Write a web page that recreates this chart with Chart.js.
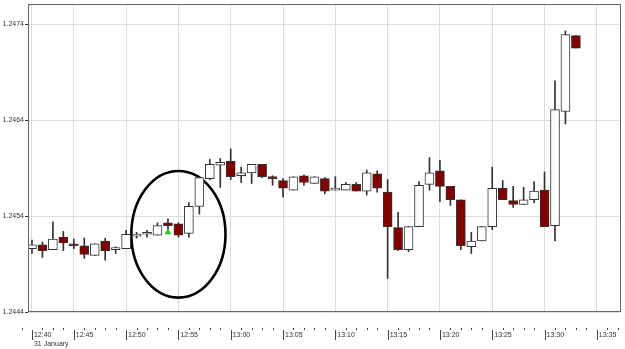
<!DOCTYPE html>
<html>
<head>
<meta charset="utf-8">
<script src="https://cdn.jsdelivr.net/npm/chart.js@4.4.1/dist/chart.umd.min.js"></script>
<style>
  html, body { margin: 0; padding: 0; background: #fff; }
  #wrap { width: 625px; height: 349px; }
</style>
</head>
<body>
<div id="wrap"><canvas id="candles" width="625" height="349"></canvas></div>
<script>
// One-minute candles, 31 January.
const times = [
  '12:41', '12:42', '12:43', '12:44', '12:45', '12:46', '12:47', '12:48', '12:49', '12:50',
  '12:51', '12:52', '12:53', '12:54', '12:55', '12:56', '12:57', '12:58', '12:59', '13:00',
  '13:01', '13:02', '13:03', '13:04', '13:05', '13:06', '13:07', '13:08', '13:09', '13:10',
  '13:11', '13:12', '13:13', '13:14', '13:15', '13:16', '13:17', '13:18', '13:19', '13:20',
  '13:21', '13:22', '13:23', '13:24', '13:25', '13:26', '13:27', '13:28', '13:29', '13:30',
  '13:31', '13:32', '13:33'
];
const opens = [
  1.24506, 1.24510, 1.24505, 1.24518, 1.24511, 1.24509, 1.24499, 1.24514, 1.24505, 1.24506,
  1.24519, 1.24521, 1.24520, 1.24533, 1.24532, 1.24522, 1.24550, 1.24579, 1.24593, 1.24597,
  1.24582, 1.24585, 1.24594, 1.24581, 1.24577, 1.24567, 1.24582, 1.24574, 1.24579, 1.24567,
  1.24567, 1.24573, 1.24566, 1.24584, 1.24565, 1.24528, 1.24505, 1.24529, 1.24573, 1.24587,
  1.24571, 1.24557, 1.24508, 1.24514, 1.24529, 1.24569, 1.24556, 1.24552, 1.24557, 1.24567,
  1.24530, 1.24649, 1.24728
];
const highs = [
  1.24515, 1.24513, 1.24534, 1.24524, 1.24516, 1.24517, 1.24511, 1.24517, 1.24508, 1.24525,
  1.24523, 1.24525, 1.24533, 1.24537, 1.24533, 1.24554, 1.24581, 1.24599, 1.24600, 1.24610,
  1.24591, 1.24594, 1.24594, 1.24582, 1.24579, 1.24581, 1.24583, 1.24581, 1.24580, 1.24581,
  1.24575, 1.24575, 1.24588, 1.24587, 1.24578, 1.24544, 1.24529, 1.24576, 1.24601, 1.24598,
  1.24571, 1.24557, 1.24523, 1.24529, 1.24591, 1.24577, 1.24571, 1.24570, 1.24576, 1.24586,
  1.24681, 1.24733, 1.24728
];
const lows = [
  1.24501, 1.24497, 1.24505, 1.24504, 1.24506, 1.24496, 1.24499, 1.24494, 1.24501, 1.24506,
  1.24517, 1.24518, 1.24520, 1.24525, 1.24518, 1.24518, 1.24542, 1.24578, 1.24570, 1.24578,
  1.24575, 1.24574, 1.24580, 1.24572, 1.24560, 1.24567, 1.24572, 1.24574, 1.24563, 1.24567,
  1.24567, 1.24566, 1.24562, 1.24565, 1.24475, 1.24504, 1.24503, 1.24529, 1.24567, 1.24555,
  1.24551, 1.24505, 1.24501, 1.24514, 1.24526, 1.24557, 1.24549, 1.24552, 1.24554, 1.24529,
  1.24514, 1.24636, 1.24715
];
const closes = [
  1.24510, 1.24504, 1.24516, 1.24512, 1.24509, 1.24500, 1.24511, 1.24504, 1.24505, 1.24521,
  1.24520, 1.24522, 1.24530, 1.24530, 1.24520, 1.24550, 1.24580, 1.24594, 1.24596, 1.24581,
  1.24585, 1.24594, 1.24581, 1.24579, 1.24569, 1.24581, 1.24575, 1.24581, 1.24566, 1.24567,
  1.24573, 1.24566, 1.24585, 1.24569, 1.24529, 1.24505, 1.24529, 1.24572, 1.24585, 1.24571,
  1.24557, 1.24509, 1.24514, 1.24529, 1.24569, 1.24557, 1.24552, 1.24557, 1.24566, 1.24529,
  1.24651, 1.24729, 1.24715
];

// Axis ticks. The first one sits on the first candle but reads as the axis start.
const tickTimes = ['12:41', '12:45', '12:50', '12:55', '13:00', '13:05', '13:10', '13:15', '13:20', '13:25', '13:30', '13:35'];
const tickLabels = ['12:40', '12:45', '12:50', '12:55', '13:00', '13:05', '13:10', '13:15', '13:20', '13:25', '13:30', '13:35'];
const dateLabel = '31 January';
const priceTicks = [1.2444, 1.2454, 1.2464, 1.2474];

// Signal marker and the hand-drawn ring round it.
const markTime = '12:54';
const markPrice = 1.24523;
const ringTime = '12:55';
const ringPrice = 1.24521;
const ringMinutes = 4.5;
const ringPrices = 0.00066;

const minute = (t) => {
  const [h, m] = t.split(':').map(Number);
  return (h - 12) * 60 + m - 40;
};

const RED = '#800000';
const EDGE = '#333';

const bodies = times.map((t, i) => ({ x: minute(t), y: [opens[i], closes[i]] }));
const wicks = times.map((t, i) => ({ x: minute(t), y: [lows[i], highs[i]] }));
const fills = times.map((t, i) => (closes[i] < opens[i] ? RED : '#fff'));

const frame = {
  id: 'frame',
  beforeDatasetsDraw(chart) {
    const { ctx, scales: { x, y } } = chart;
    const cx = x.getPixelForValue(minute(ringTime));
    const cy = y.getPixelForValue(ringPrice);
    const rx = x.getPixelForValue(minute(ringTime) + ringMinutes) - cx;
    const ry = cy - y.getPixelForValue(ringPrice + ringPrices);
    ctx.save();
    ctx.beginPath();
    ctx.ellipse(cx, cy, rx, ry, 0, 0, Math.PI * 2);
    ctx.lineWidth = 2.6;
    ctx.strokeStyle = '#000';
    ctx.stroke();
    ctx.restore();
  },
  afterDraw(chart) {
    const { ctx, chartArea: a, scales: { x } } = chart;
    ctx.save();
    ctx.strokeStyle = '#666';
    ctx.lineWidth = 1;
    ctx.strokeRect(a.left + 0.5, a.top + 0.5, a.right - a.left - 1, a.bottom - a.top - 1);
    // minute marks and 5-minute marks under the axis
    const majors = tickTimes.map(minute);
    ctx.strokeStyle = '#444';
    ctx.beginPath();
    for (let m = 0; m <= 57; m++) {
      const px = Math.round(x.getPixelForValue(m)) + 0.5;
      if (majors.includes(m)) {
        ctx.moveTo(px, a.bottom + 18);
        ctx.lineTo(px, a.bottom + 28);
      } else {
        ctx.moveTo(px, a.bottom + 16);
        ctx.lineTo(px, a.bottom + 18);
      }
    }
    ctx.stroke();
    ctx.restore();
  }
};

Chart.defaults.font.family = '"Liberation Sans", Arial, sans-serif';
Chart.defaults.font.size = 7;
Chart.defaults.color = '#333';

new Chart(document.getElementById('candles').getContext('2d'), {
  type: 'bar',
  data: {
    datasets: [
      {
        type: 'scatter', data: [{ x: minute(markTime), y: markPrice }],
        pointStyle: 'triangle', pointRadius: 4, backgroundColor: '#22cc22', borderColor: '#22cc22',
        borderWidth: 0, order: 0
      },
      {
        data: bodies, backgroundColor: fills, borderColor: EDGE, borderWidth: 1,
        borderSkipped: false, barThickness: 9, minBarLength: 2, grouped: false, order: 1
      },
      {
        data: wicks, backgroundColor: EDGE, borderWidth: 0,
        barThickness: 1, grouped: false, order: 2
      }
    ]
  },
  options: {
    responsive: false,
    animation: false,
    layout: { padding: { top: 4, right: 4, left: 0, bottom: 0 } },
    plugins: { legend: { display: false }, tooltip: { enabled: false } },
    scales: {
      x: {
        type: 'linear', min: 0.62, max: 57.31, offset: false,
        afterBuildTicks: (s) => { s.ticks = tickTimes.map((t) => ({ value: minute(t) })); },
        afterFit: (s) => { s.height = 37; s.paddingLeft = 0; s.paddingRight = 0; },
        ticks: {
          align: 'start', labelOffset: 2, padding: 19, maxRotation: 0, autoSkip: false,
          callback: (v, i) => (i === 0 ? [tickLabels[0], dateLabel] : tickLabels[i])
        },
        grid: { color: '#dcdcdc', drawTicks: false, offset: false },
        border: { display: false }
      },
      y: {
        min: 1.2444, max: 1.24761,
        afterBuildTicks: (s) => { s.ticks = priceTicks.map((v) => ({ value: v })); },
        afterFit: (s) => { s.width = 28; s.paddingTop = 0; s.paddingBottom = 0; },
        ticks: { padding: 1, callback: (v) => v.toFixed(4) },
        grid: { color: '#dcdcdc', tickColor: '#333', tickLength: 3 },
        border: { display: false }
      }
    }
  },
  plugins: [frame]
});
</script>
</body>
</html>
